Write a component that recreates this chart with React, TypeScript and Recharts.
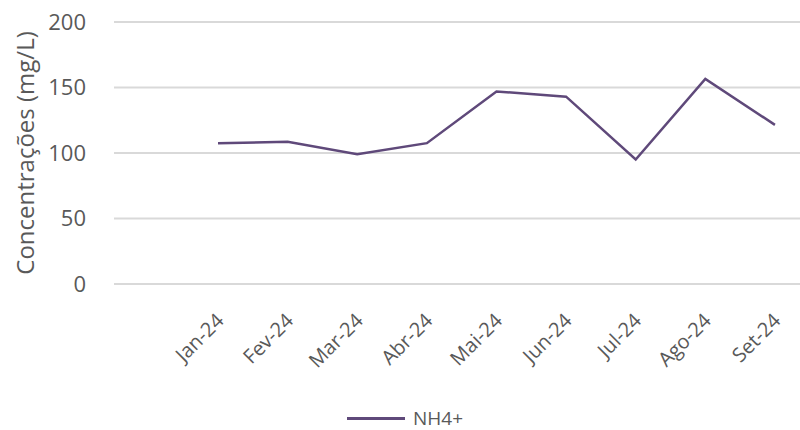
import { LineChart, Line, XAxis, YAxis, CartesianGrid, Legend } from "recharts";

const months = ["Jan-24", "Fev-24", "Mar-24", "Abr-24", "Mai-24", "Jun-24", "Jul-24", "Ago-24", "Set-24"];
const nh4 = [107.5, 108.5, 99, 107.5, 147, 143, 95, 156.5, 121.5];
const yTicks = [0, 50, 100, 150, 200];

const data = months.map((m, i) => ({ i, month: m, nh4: nh4[i] }));

const FONT = "'Open Sans', sans-serif";
const TEXT = "#595959";
const PURPLE = "#5F497A";

function MonthTick({ x, y, payload }: any) {
  return (
    <text
      x={x + 7}
      y={y + 30}
      textAnchor="end"
      transform={`rotate(-45 ${x + 7} ${y + 30})`}
      fill={TEXT}
      fontSize={20}
      fontFamily={FONT}
    >
      {months[payload.value]}
    </text>
  );
}

function LegendContent() {
  return (
    <div style={{ display: "flex", alignItems: "center", justifyContent: "center", fontFamily: FONT, fontSize: 19, color: TEXT, paddingTop: 14, paddingLeft: 10 }}>
      <div style={{ width: 58, height: 3, background: PURPLE, marginRight: 8 }} />
      <span style={{ display: "block", lineHeight: "20px", height: 20 }}>NH4+</span>
    </div>
  );
}

export default function App() {
  return (
    <div style={{ position: "absolute", left: 0, top: 0, width: 800, height: 430, background: "#fff" }}>
      <LineChart width={800} height={430} data={data} margin={{ top: 22, right: 0, bottom: 0, left: 0 }}>
        <CartesianGrid vertical={false} stroke="#d9d9d9" strokeWidth={2} />
        <XAxis
          dataKey="i"
          type="number"
          domain={[-1.494, 8.36]}
          ticks={[0, 1, 2, 3, 4, 5, 6, 7, 8]}
          allowDataOverflow
          axisLine={false}
          tickLine={false}
          height={110}
          tick={<MonthTick />}
          interval={0}
        />
        <YAxis
          domain={[0, 200]}
          ticks={yTicks}
          width={114}
          axisLine={false}
          tickLine={false}
          tickMargin={22}
          tick={{ fill: TEXT, fontSize: 22, fontFamily: FONT }}
          label={{
            value: "Concentrações (mg/L)",
            angle: -90,
            position: "insideLeft",
            dx: 20,
            dy: 0,
            fill: TEXT,
            fontSize: 24,
            fontFamily: FONT,
            style: { textAnchor: "middle" },
          }}
        />
        <Legend verticalAlign="bottom" height={36} content={<LegendContent />} />
        <Line
          dataKey="nh4"
          name="NH4+"
          stroke={PURPLE}
          strokeWidth={2.5}
          dot={false}
          isAnimationActive={false}
        />
      </LineChart>
    </div>
  );
}
